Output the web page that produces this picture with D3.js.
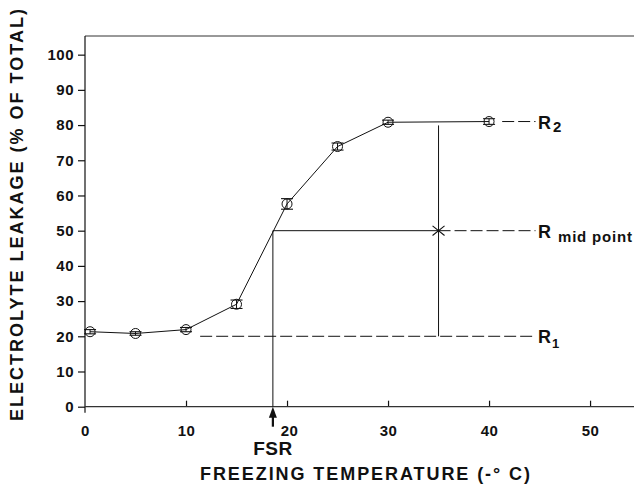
<!DOCTYPE html>
<html>
<head>
<meta charset="utf-8">
<script src="https://cdn.jsdelivr.net/npm/d3@7"></script>
<style>
  body { margin: 0; background: #fff; }
  svg text { font-family: "Liberation Sans", Arial, sans-serif; font-weight: bold; fill: #111; }
</style>
</head>
<body>
<div id="chart"></div>
<script>
// Data
var temps = [0.5, 5, 10, 15, 20, 25, 30, 40];
var leakage = [21.3, 20.8, 21.9, 29.1, 57.6, 73.9, 80.8, 81];
var errs = [0.6, 0.5, 0.6, 1.2, 1.5, 1.0, 0.6, 0.8];
var xTicks = [0, 10, 20, 30, 40, 50];
var yTicks = [0, 10, 20, 30, 40, 50, 60, 70, 80, 90, 100];

// reference levels
var R1 = 20, R2 = 81, Rmid = 50;
var FSR = 18.6, Tmid = 35;

var svgWidth = 634, svgHeight = 485;

var svg = d3.select("#chart").append("svg")
  .attr("width", svgWidth)
  .attr("height", svgHeight);

var x = d3.scaleLinear().domain([0, 54.35]).range([85, 634]);
var y = d3.scaleLinear().domain([0, 105.3]).range([406.7, 36]);

var ink = "#111";

// top frame line
svg.append("line")
  .attr("x1", x(0)).attr("x2", 634)
  .attr("y1", y(105.3)).attr("y2", y(105.3))
  .attr("stroke", "#333").attr("stroke-width", 1);

// y axis
var yAxis = d3.axisLeft(y).tickValues(yTicks).tickSize(7).tickPadding(4);
var gy = svg.append("g").attr("transform", "translate(" + x(0) + ",0)").call(yAxis);
gy.select(".domain").remove();
gy.selectAll("line").attr("stroke", ink).attr("stroke-width", 1.2);
gy.selectAll("text").style("font-size", "15px").attr("letter-spacing", "0.5px").attr("fill", ink);
svg.append("line")
  .attr("x1", x(0)).attr("x2", x(0))
  .attr("y1", y(105.3)).attr("y2", y(0) + 6)
  .attr("stroke", ink).attr("stroke-width", 1.2);

// x axis, ticks pointing inward
var xAxis = d3.axisBottom(x).tickValues(xTicks).tickSize(-6).tickPadding(19);
var gx = svg.append("g").attr("transform", "translate(0," + y(0) + ")").call(xAxis);
gx.select(".domain").remove();
gx.selectAll("line").attr("stroke", ink).attr("stroke-width", 1.2);
gx.selectAll(".tick").filter(function(d) { return d === 0; }).select("line").remove();
gx.selectAll("text").style("font-size", "15px").attr("letter-spacing", "0.5px").attr("fill", ink)
  .attr("dx", function(d) { return d === 20 ? 2 : 0; });
svg.append("line")
  .attr("x1", x(0)).attr("x2", 634)
  .attr("y1", y(0)).attr("y2", y(0))
  .attr("stroke", "#333").attr("stroke-width", 1.2);

// construction lines
var thin = 1;
// R1 dashed
svg.append("line")
  .attr("x1", x(11.4)).attr("x2", x(44.6))
  .attr("y1", y(R1)).attr("y2", y(R1))
  .attr("stroke", ink).attr("stroke-width", thin).attr("stroke-dasharray", "12,4");
// mid point: solid from FSR to the cross, dashed beyond
svg.append("line")
  .attr("x1", x(FSR)).attr("x2", x(Tmid))
  .attr("y1", y(Rmid)).attr("y2", y(Rmid))
  .attr("stroke", ink).attr("stroke-width", thin);
svg.append("line")
  .attr("x1", x(Tmid)).attr("x2", x(44.6))
  .attr("y1", y(Rmid)).attr("y2", y(Rmid))
  .attr("stroke", ink).attr("stroke-width", thin).attr("stroke-dasharray", "12,4");
// R2 dashed tail
svg.append("line")
  .attr("x1", x(41.3)).attr("x2", x(44.6))
  .attr("y1", y(R2)).attr("y2", y(R2))
  .attr("stroke", ink).attr("stroke-width", thin).attr("stroke-dasharray", "12,4");
// vertical at Tmid between R2 and R1
svg.append("line")
  .attr("x1", x(Tmid)).attr("x2", x(Tmid))
  .attr("y1", y(79.9)).attr("y2", y(R1))
  .attr("stroke", ink).attr("stroke-width", thin);
// cross at mid point
var cs = 6;
svg.append("path")
  .attr("d", "M" + (x(Tmid) - cs) + "," + (y(Rmid) - cs * 0.8) + "L" + (x(Tmid) + cs) + "," + (y(Rmid) + cs * 0.8) +
             "M" + (x(Tmid) - cs) + "," + (y(Rmid) + cs * 0.8) + "L" + (x(Tmid) + cs) + "," + (y(Rmid) - cs * 0.8))
  .attr("stroke", ink).attr("stroke-width", 1.1).attr("fill", "none");
// FSR vertical
svg.append("line")
  .attr("x1", x(FSR)).attr("x2", x(FSR))
  .attr("y1", y(Rmid)).attr("y2", y(0))
  .attr("stroke", ink).attr("stroke-width", thin);
// FSR arrow below the axis
svg.append("line")
  .attr("x1", x(FSR)).attr("x2", x(FSR))
  .attr("y1", y(0) + 20).attr("y2", y(0) + 8)
  .attr("stroke", ink).attr("stroke-width", 2.2);
svg.append("path")
  .attr("d", "M" + x(FSR) + "," + y(0) + "L" + (x(FSR) - 4) + "," + (y(0) + 11) + "L" + (x(FSR) + 4) + "," + (y(0) + 11) + "Z")
  .attr("fill", ink);

// data line
var line = d3.line().x(function(d) { return x(d[0]); }).y(function(d) { return y(d[1]); });
var pts = temps.map(function(t, i) { return [t, leakage[i]]; });
svg.append("path")
  .datum(pts)
  .attr("d", line)
  .attr("fill", "none").attr("stroke", ink).attr("stroke-width", 1);

// error bars + markers
var pg = svg.selectAll(".pt").data(pts).enter().append("g").attr("class", "pt");
pg.append("line")
  .attr("x1", function(d) { return x(d[0]); }).attr("x2", function(d) { return x(d[0]); })
  .attr("y1", function(d, i) { return y(d[1] + errs[i]); })
  .attr("y2", function(d, i) { return y(d[1] - errs[i]); })
  .attr("stroke", ink);
[1, -1].forEach(function(s) {
  pg.append("line")
    .attr("x1", function(d) { return x(d[0]) - 6; }).attr("x2", function(d) { return x(d[0]) + 6; })
    .attr("y1", function(d, i) { return y(d[1] + s * errs[i]); })
    .attr("y2", function(d, i) { return y(d[1] + s * errs[i]); })
    .attr("stroke", ink).attr("stroke-width", 1.1);
});
pg.append("circle")
  .attr("cx", function(d) { return x(d[0]); })
  .attr("cy", function(d) { return y(d[1]); })
  .attr("r", 5)
  .attr("fill", "none").attr("stroke", ink).attr("stroke-width", 1);

// right-hand labels
function rLabel(yv, sub, subSize, dy, dx, ls) {
  var t = svg.append("text").attr("x", 538).attr("y", y(yv) + 7).style("font-size", "18px");
  t.append("tspan").text("R");
  t.append("tspan").attr("dx", dx).attr("dy", dy).attr("letter-spacing", ls)
    .style("font-size", subSize).text(sub);
}
rLabel(R2, "2", "15px", 3, 2, "0px");
rLabel(Rmid, "mid point", "15px", 4, 7, "0.8px");
rLabel(R1, "1", "13px", 5, 1, "0px");

// FSR label
svg.append("text")
  .attr("x", x(FSR)).attr("y", 455)
  .attr("text-anchor", "middle")
  .attr("letter-spacing", "0.5px")
  .style("font-size", "19px")
  .text("FSR");

// axis titles
svg.append("text")
  .attr("x", 365).attr("y", 480)
  .attr("text-anchor", "middle")
  .attr("textLength", 330).attr("lengthAdjust", "spacing")
  .style("font-size", "18px")
  .text("FREEZING TEMPERATURE (-\u00B0 C)");

svg.append("text")
  .attr("transform", "translate(23,215) rotate(-90)")
  .attr("text-anchor", "middle")
  .attr("textLength", 412).attr("lengthAdjust", "spacing")
  .style("font-size", "18px")
  .text("ELECTROLYTE LEAKAGE (% OF TOTAL)");
</script>
</body>
</html>
